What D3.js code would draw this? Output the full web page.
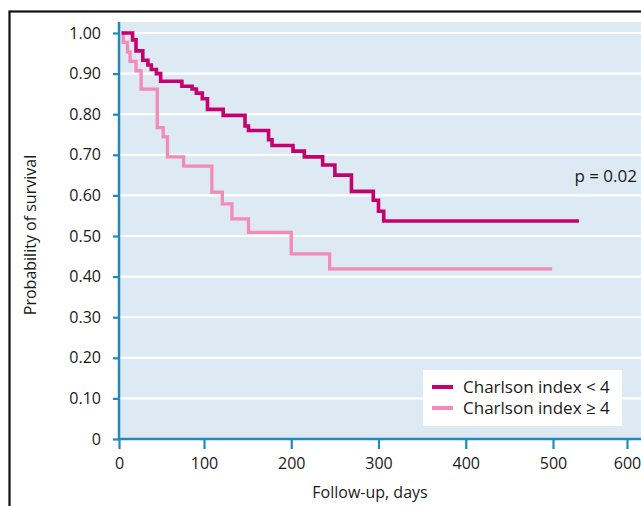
<!DOCTYPE html>
<html>
<head>
<meta charset="utf-8">
<script src="https://cdn.jsdelivr.net/npm/d3@7/dist/d3.min.js"></script>
<style>
  html, body { margin: 0; padding: 0; background: #fff; }
  svg { display: block; }
  text { font-family: "Open Sans", "Noto Sans", sans-serif; fill: #1a1a1a; }
</style>
</head>
<body>
<svg id="chart" width="641" height="506"></svg>
<script>
// ---- data ----
const seriesNames = ["Charlson index < 4", "Charlson index \u2265 4"];
// Charlson index < 4 : event days and survival after each step
const lowDays  = [3, 16, 20, 28, 34, 38, 44, 49, 74, 86, 91, 98, 104, 122, 147, 151, 174, 178, 202, 215, 236, 250, 269, 294, 300, 306, 535];
const lowSurv  = [1.00, 0.983, 0.956, 0.933, 0.921, 0.910, 0.900, 0.881, 0.869, 0.862, 0.852, 0.838, 0.812, 0.797, 0.771, 0.760, 0.737, 0.723, 0.709, 0.695, 0.675, 0.650, 0.610, 0.588, 0.561, 0.537, 0.537];
// Charlson index >= 4
const highDays = [3, 5, 10, 13, 20, 26, 45, 52, 57, 76, 109, 121, 132, 151, 200, 244, 499];
const highSurv = [1.00, 0.977, 0.953, 0.930, 0.907, 0.862, 0.767, 0.744, 0.695, 0.672, 0.608, 0.579, 0.542, 0.509, 0.456, 0.419, 0.419];
const xTicks = [0, 100, 200, 300, 400, 500, 600];
const yTicks = [0, 0.1, 0.2, 0.3, 0.4, 0.5, 0.6, 0.7, 0.8, 0.9, 1.0];
const pText = "p = 0.02";
const xTitle = "Follow-up, days";
const yTitle = "Probability of survival";

// ---- styles ----
const colLow = "#c6006f";
const colHigh = "#f48ab8";
const axisCol = "#1b8bc2";
const bgCol = "#dde9f3";

const svg = d3.select("#chart");

const x = d3.scaleLinear().domain([0, 100, 500, 600]).range([119, 204, 553, 627]);
const y = d3.scaleLinear().domain([0, 1]).range([439, 33]);

// frame
svg.append("rect").attr("x", 9.5).attr("y", 11.5).attr("width", 700).attr("height", 600)
  .attr("fill", "none").attr("stroke", "#111").attr("stroke-width", 2.2);

// plot background
svg.append("rect").attr("x", 119).attr("y", 22).attr("width", 641 - 119).attr("height", 439 - 22)
  .attr("fill", bgCol);

// gridlines
svg.append("g").selectAll("line").data(yTicks.filter(d => d > 0)).join("line")
  .attr("x1", 120).attr("x2", 641)
  .attr("y1", d => y(d)).attr("y2", d => y(d))
  .attr("stroke", "#fff").attr("stroke-width", 2.2);

// curves
const line = d3.line().x(d => x(d[0])).y(d => y(d[1])).curve(d3.curveStepAfter);
const lowData = lowDays.map((d, i) => [d, lowSurv[i]]);
const highData = highDays.map((d, i) => [d, highSurv[i]]);

svg.append("path").datum(highData).attr("d", line)
  .attr("fill", "none").attr("stroke", colHigh).attr("stroke-width", 3.3);
svg.append("path").datum(lowData).attr("d", line)
  .attr("fill", "none").attr("stroke", colLow).attr("stroke-width", 3.6);

// axes
const yAxis = d3.axisLeft(y).tickValues(yTicks).tickSize(6).tickPadding(12)
  .tickFormat(d => d === 0 ? "0" : d3.format(".2f")(d));
const gy = svg.append("g").attr("transform", "translate(119,0)").call(yAxis);
gy.select(".domain").remove();
gy.selectAll(".tick line").attr("stroke", axisCol).attr("stroke-width", 2.2);
gy.selectAll(".tick text").attr("font-size", 16).attr("fill", "#1a1a1a")
  .style("font-family", '"Open Sans", sans-serif');

const xAxis = d3.axisBottom(x).tickValues(xTicks).tickSize(10).tickPadding(9);
const gx = svg.append("g").attr("transform", "translate(0,439)").call(xAxis);
gx.select(".domain").remove();
gx.selectAll(".tick line").attr("stroke", axisCol).attr("stroke-width", 2.2);
gx.selectAll(".tick text").attr("font-size", 16).attr("fill", "#1a1a1a")
  .style("font-family", '"Open Sans", sans-serif');

// axis lines
svg.append("line").attr("x1", 119).attr("x2", 119).attr("y1", 22).attr("y2", 440)
  .attr("stroke", axisCol).attr("stroke-width", 2.5);
svg.append("line").attr("x1", 118).attr("x2", 641).attr("y1", 439).attr("y2", 439)
  .attr("stroke", axisCol).attr("stroke-width", 2.5);

// titles
svg.append("text").attr("x", 370).attr("y", 498).attr("text-anchor", "middle")
  .attr("font-size", 16).text(xTitle);
svg.append("text").attr("transform", "translate(36,235) rotate(-90)").attr("text-anchor", "middle")
  .attr("font-size", 16).text(yTitle);

// p value
svg.append("text").attr("x", 637).attr("y", 182).attr("text-anchor", "end")
  .attr("font-size", 17).text(pText);

// legend
const lg = svg.append("g");
lg.append("rect").attr("x", 423).attr("y", 370).attr("width", 199).attr("height", 56).attr("fill", "#fff");
const legendRows = [{name: seriesNames[0], col: colLow, yy: 387}, {name: seriesNames[1], col: colHigh, yy: 408}];
legendRows.forEach(r => {
  lg.append("line").attr("x1", 432).attr("x2", 453).attr("y1", r.yy).attr("y2", r.yy)
    .attr("stroke", r.col).attr("stroke-width", 4);
  lg.append("text").attr("x", 463).attr("y", r.yy + 5.5).attr("font-size", 17).text(r.name);
});
</script>
</body>
</html>
